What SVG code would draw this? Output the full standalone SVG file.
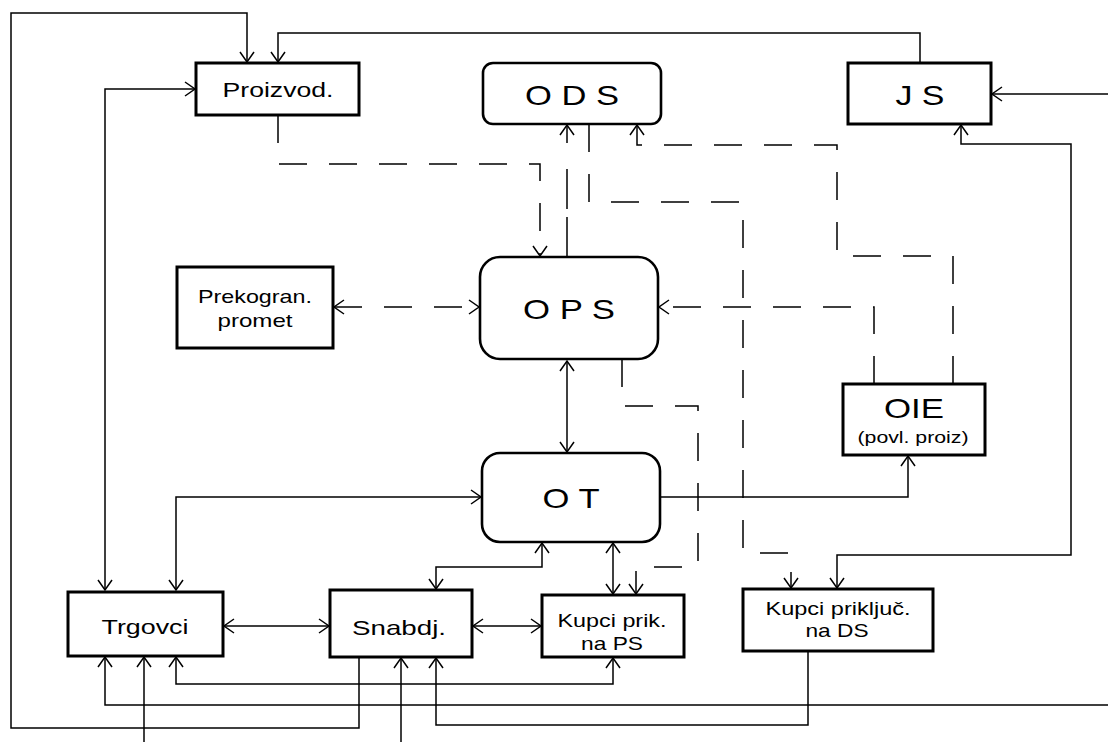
<svg xmlns="http://www.w3.org/2000/svg" width="1108" height="742" viewBox="0 0 1108 742">
<style>
.box{fill:#fff;stroke:#000;stroke-width:3}
.rbox{fill:#fff;stroke:#000;stroke-width:2.6}
.c{fill:none;stroke:#000;stroke-width:1.5}
.d{fill:none;stroke:#000;stroke-width:1.5;stroke-dasharray:28 22}
text{font-family:"Liberation Sans",Arial,sans-serif;fill:#000;text-anchor:middle}
.big{font-size:28px}
.mid{font-size:21px}
.sm{font-size:19px}
.xs{font-size:16px}
</style>
<defs>
<marker id="a" markerUnits="userSpaceOnUse" markerWidth="14" markerHeight="16" refX="11" refY="8" orient="auto-start-reverse">
<path d="M1,1 L11,8 L1,15" fill="none" stroke="#000" stroke-width="1.5"/>
</marker>
</defs>
<g id="connectors">
<path class="c" d="M359,657 V728 H11 V13 H247 V62" marker-end="url(#a)"/>
<path class="c" d="M920,63 V33 H278 V62" marker-end="url(#a)"/>
<path class="c" d="M105,590 V89 H195" marker-start="url(#a)" marker-end="url(#a)"/>
<path class="c" d="M176,590 V497 H481" marker-start="url(#a)" marker-end="url(#a)"/>
<path class="c" d="M660,497 H908 V456" marker-end="url(#a)"/>
<path class="c" d="M567,361 V452" marker-start="url(#a)" marker-end="url(#a)"/>
<path class="c" d="M542,543 V567 H436 V589" marker-start="url(#a)" marker-end="url(#a)"/>
<path class="c" d="M613,543 V594" marker-start="url(#a)" marker-end="url(#a)"/>
<path class="c" d="M224,626 H329" marker-start="url(#a)" marker-end="url(#a)"/>
<path class="c" d="M473,626 H541" marker-start="url(#a)" marker-end="url(#a)"/>
<path class="c" d="M176,657 V684 H613 V658" marker-start="url(#a)" marker-end="url(#a)"/>
<path class="c" d="M1108,705 H105 V657" marker-end="url(#a)"/>
<path class="c" d="M808,651 V725 H436 V658" marker-end="url(#a)"/>
<path class="c" d="M144,742 V657" marker-end="url(#a)"/>
<path class="c" d="M401,742 V658" marker-end="url(#a)"/>
<path class="c" d="M1108,94 H992" marker-end="url(#a)"/>
<path class="c" d="M961,125 V144 H1071 V555 H837 V588" marker-start="url(#a)" marker-end="url(#a)"/>
<path class="d" style="stroke-dasharray:40 8 40 26" d="M567,257 V125" marker-end="url(#a)"/>
<path class="d" d="M278,115 V164 H540 V256" marker-end="url(#a)"/>
<path class="d" d="M334,307 H479" marker-start="url(#a)" marker-end="url(#a)"/>
<path class="d" d="M874,384 V307 H659" marker-end="url(#a)"/>
<path class="d" d="M953,384 V256 H837 V145 H637 V125" marker-end="url(#a)"/>
<path class="d" d="M589,124 V202 H743 V553 H791 V588" marker-end="url(#a)"/>
<path class="d" d="M622,359 V406 H698 V567 H636 V594" marker-end="url(#a)"/>
</g>
<g id="proizvod"><rect class="box" x="196" y="63" width="163" height="52"/><text class="mid" x="278" y="97" textLength="111" lengthAdjust="spacingAndGlyphs">Proizvod.</text></g>
<g id="ods"><rect class="rbox" x="483" y="63" width="178" height="61" rx="10"/><text class="big" x="572" y="105" textLength="94" lengthAdjust="spacingAndGlyphs">O D S</text></g>
<g id="js"><rect class="box" x="848" y="63" width="143" height="61"/><text class="big" x="920" y="105" textLength="49" lengthAdjust="spacingAndGlyphs">J S</text></g>
<g id="prekogran"><rect class="box" x="177" y="267" width="156" height="81"/><text class="sm" x="255" y="303" textLength="114" lengthAdjust="spacingAndGlyphs">Prekogran.</text><text class="sm" x="255" y="327" textLength="75" lengthAdjust="spacingAndGlyphs">promet</text></g>
<g id="ops"><rect class="rbox" x="480" y="257" width="178" height="102" rx="20"/><text class="big" x="569" y="319" textLength="92" lengthAdjust="spacingAndGlyphs">O P S</text></g>
<g id="oie"><rect class="box" x="843" y="384" width="142" height="71"/><text class="big" x="914" y="418" textLength="60" lengthAdjust="spacingAndGlyphs">OIE</text><text class="xs" x="913" y="443" textLength="111" lengthAdjust="spacingAndGlyphs">(povl. proiz)</text></g>
<g id="ot"><rect class="rbox" x="482" y="453" width="178" height="89" rx="18"/><text class="big" x="571" y="508" textLength="57" lengthAdjust="spacingAndGlyphs">O T</text></g>
<g id="trgovci"><rect class="box" x="68" y="592" width="155" height="64"/><text class="mid" x="145" y="634" textLength="87" lengthAdjust="spacingAndGlyphs">Trgovci</text></g>
<g id="snabdj"><rect class="box" x="330" y="590" width="142" height="67"/><text class="mid" x="399" y="635" textLength="94" lengthAdjust="spacingAndGlyphs">Snabdj.</text></g>
<g id="kupci-ps"><rect class="box" x="542" y="595" width="142" height="62"/><text class="sm" x="612" y="627" textLength="109" lengthAdjust="spacingAndGlyphs">Kupci prik.</text><text class="sm" x="612" y="650" textLength="62" lengthAdjust="spacingAndGlyphs">na PS</text></g>
<g id="kupci-ds"><rect class="box" x="743" y="589" width="190" height="62"/><text class="sm" x="838" y="615" textLength="145" lengthAdjust="spacingAndGlyphs">Kupci priključ.</text><text class="sm" x="837" y="637" textLength="63" lengthAdjust="spacingAndGlyphs">na DS</text></g>
</svg>
